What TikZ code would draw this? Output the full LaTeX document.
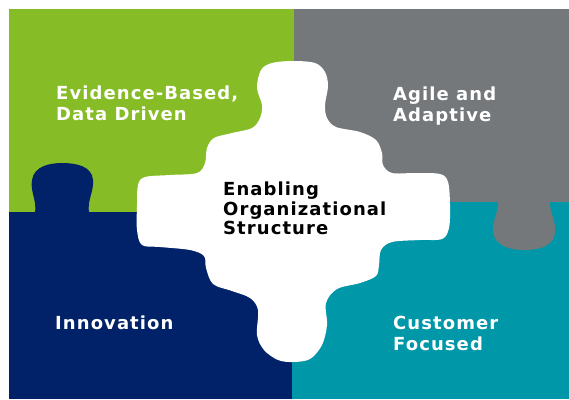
\documentclass[tikz,border=0pt]{standalone}
\usepackage{fontspec}
\setmainfont{DejaVu Sans}
\newfontfamily\pzfont[LetterSpace=6]{DejaVu Sans}
\definecolor{pzgreen}{HTML}{86BC25}
\definecolor{pzgray}{HTML}{75787B}
\definecolor{pznavy}{HTML}{012169}
\definecolor{pzteal}{HTML}{0097A9}
\tikzset{
  lbl/.style={anchor=north west, inner sep=0pt, align=left,
    font=\pzfont\bfseries\fontsize{18}{20.5}\selectfont, text=white},
  ctr/.style={lbl, text=black, font=\pzfont\bfseries\fontsize{18}{19.5}\selectfont}
}
\begin{document}
\begin{tikzpicture}[x=1pt,y=-1pt]
\useasboundingbox (0,0) rectangle (569,399);
% quadrants
\fill[pzteal] (292,202) rectangle (569,399);
\fill[pznavy] (9,212) rectangle (292,399);
\fill[pzgreen] (9,9) rectangle (294,212);
\fill[pzgray] (294,9) rectangle (569,202);
% navy knob into green
\fill[pznavy] (35,213) .. controls (37,200) and (30,192) .. (32,180)
  .. controls (34,166) and (50,163) .. (62,163)
  .. controls (76,163) and (92,166) .. (93,180)
  .. controls (94,192) and (87,200) .. (89,213) -- cycle;
% gray knob into teal
\fill[pzgray] (498,201) .. controls (499,212) and (492,220) .. (493,232)
  .. controls (495,246) and (510,250) .. (524,250)
  .. controls (540,250) and (554,246) .. (555,232)
  .. controls (556,220) and (549,212) .. (550,201) -- cycle;
% central white piece
\fill[white] plot[smooth cycle, tension=0.55] coordinates {
 (272,63) (293,61) (315,63) (325,72) (328,86) (325,105) (327,118)
 (336,127) (360,132) (376,140) (382,153) (383,165) (392,173) (415,173)
 (440,174) (448,182) (450,205) (449,228) (442,239) (420,240) (392,242)
 (381,250) (379,265) (376,276) (360,283) (337,289) (326,303) (327,325)
 (322,345) (310,359) (293,362) (278,360) (264,350) (257,335) (258,310)
 (250,298) (232,291) (213,284) (206,268) (204,256) (190,250) (160,247)
 (142,245) (137,230) (137,205) (138,185) (145,177) (170,175) (197,173)
 (205,163) (207,148) (214,138) (232,133) (252,128) (260,118) (262,105)
 (257,88) (261,70)};
% labels
\node[lbl] (evid) at (56,86) {Evidence-Based,\\Data Driven};
\node[lbl] (agile) at (393,87) {Agile and\\Adaptive};
\node[ctr] (enab) at (223,182) {Enabling\\Organizational\\Structure};
\node[lbl] (innov) at (55,316) {Innovation};
\node[lbl] (cust) at (393,316) {Customer\\Focused};
\end{tikzpicture}
\end{document}
